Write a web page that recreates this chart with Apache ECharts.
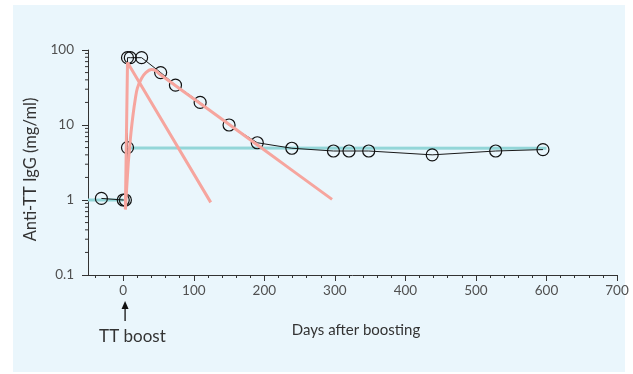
<!DOCTYPE html>
<html>
<head>
<meta charset="utf-8">
<script src="https://cdn.jsdelivr.net/npm/echarts@6/dist/echarts.min.js"></script>
<style>
  html, body { margin: 0; padding: 0; background: #ffffff; }
  #chart { width: 633px; height: 374px; }
</style>
</head>
<body>
<div id="chart"></div>
<script>
// Measured antibody levels (day, mg/ml)
const measured = [
  [-31, 1.05], [0, 1.0], [3, 1.0], [6, 5.0], [6, 79], [10, 79], [26, 79],
  [53, 50], [74, 34], [109, 20], [150, 10], [190, 5.8], [239, 4.9],
  [298, 4.5], [320, 4.5], [348, 4.5], [438, 4.0], [528, 4.5], [595, 4.7]
]
// Long-lived plasma cell plateau (teal)
const plateauBefore = [[-50, 1.0], [0, 1.0]]
const plateauAfter = [[6, 4.95], [600, 4.9]]
// Short-lived response (pink, straight)
const fastDecay = [[3, 0.75], [6, 68], [124, 0.93]]
// Slower response (pink, curve)
const slowResponse = [
  [3, 0.75], [7, 3], [9, 5], [11, 8], [14, 14], [17, 22], [20, 31],
  [26, 42], [32, 50], [40, 55], [46, 53], [50, 49], [120, 16.3],
  [200, 4.63], [296, 1.02]
]
// Axis ticks
const xMajorTicks = [0, 100, 200, 300, 400, 500, 600, 700]
const xMinorTicks = [-40, -20, 20, 40, 60, 80, 120, 140, 160, 180, 220, 240, 260, 280,
  320, 340, 360, 380, 420, 440, 460, 480, 520, 540, 560, 580, 620, 640, 660, 680]
const yMinorTicks = [0.2, 0.3, 0.4, 0.5, 0.6, 0.7, 0.8, 0.9, 2, 3, 4, 5, 6, 7, 8, 9,
  20, 30, 40, 50, 60, 70, 80, 90]
const xMin = -50
const xMax = 700
const boostDay = 4

const axisColor = '#333333'
const labelColor = '#505050'
const fontFamily = 'Lato, "Open Sans", sans-serif'
const pink = '#f6a59e'
const teal = '#93d6d8'

const chart = echarts.init(document.getElementById('chart'), null, { renderer: 'canvas' })

const option = {
  animation: false,
  backgroundColor: '#ffffff',
  textStyle: { fontFamily: fontFamily },
  grid: { left: 88, top: 50, width: 529, height: 225, containLabel: false },
  xAxis: [
    {
      type: 'value',
      position: 'bottom',
      min: xMin,
      max: xMax,
      name: 'Days after boosting',
      nameLocation: 'middle',
      nameGap: 48,
      nameTextStyle: { color: '#333', fontSize: 15, fontFamily: fontFamily, padding: [0, 0, 0, 7] },
      axisLine: { onZero: false, lineStyle: { color: axisColor, width: 1 } },
      axisTick: { customValues: xMajorTicks, length: 6, lineStyle: { color: axisColor } },
      axisLabel: { customValues: xMajorTicks, color: labelColor, fontSize: 13.5, margin: 9 },
      splitLine: { show: false }
    },
    {
      type: 'value',
      position: 'bottom',
      min: xMin,
      max: xMax,
      axisLine: { show: false, onZero: false },
      axisTick: { customValues: xMinorTicks, length: 3, lineStyle: { color: axisColor } },
      axisLabel: { show: false },
      splitLine: { show: false }
    }
  ],
  yAxis: [
    {
      type: 'log',
      logBase: 10,
      position: 'left',
      min: 0.1,
      max: 100,
      name: 'Anti-TT IgG (mg/ml)',
      nameLocation: 'middle',
      nameGap: 37,
      nameTextStyle: { color: '#333', fontSize: 16.5, fontFamily: fontFamily, padding: [0, 14, 0, 0] },
      axisLine: { onZero: false, lineStyle: { color: axisColor, width: 1 } },
      axisTick: { length: 6, lineStyle: { color: axisColor } },
      axisLabel: { color: labelColor, fontSize: 13.5, margin: 14 },
      splitLine: { show: false }
    }
  ],
  graphic: [
    {
      type: 'rect',
      z: -10,
      silent: true,
      shape: { x: 13, y: 5, width: 612, height: 367 },
      style: { fill: '#eaf6fc' }
    }
  ],
  series: [
    {
      // minor log ticks on the y axis (2..9 per decade)
      type: 'custom',
      data: yMinorTicks.map(v => [xMin, v]),
      clip: false,
      silent: true,
      renderItem: function (params, api) {
        const p = api.coord([api.value(0), api.value(1)])
        return {
          type: 'line',
          shape: { x1: p[0] - 3, y1: p[1], x2: p[0], y2: p[1] },
          style: { stroke: axisColor, lineWidth: 1 }
        }
      },
      z: 0
    },
    {
      type: 'line',
      data: plateauBefore,
      symbol: 'none',
      lineStyle: { color: teal, width: 3 },
      z: 1
    },
    {
      type: 'line',
      data: plateauAfter,
      symbol: 'none',
      lineStyle: { color: teal, width: 3 },
      z: 1
    },
    {
      type: 'line',
      data: measured,
      symbol: 'circle',
      symbolSize: 12,
      itemStyle: { color: 'rgba(0,0,0,0)', borderColor: '#111', borderWidth: 1.2 },
      lineStyle: { color: '#1a1a1a', width: 1 },
      z: 2
    },
    {
      type: 'line',
      data: fastDecay,
      symbol: 'none',
      lineStyle: { color: pink, width: 3 },
      z: 3
    },
    {
      type: 'line',
      data: slowResponse,
      symbol: 'none',
      smooth: 0.35,
      lineStyle: { color: pink, width: 3 },
      z: 3
    }
  ]
}

chart.setOption(option)

// "TT boost" arrow below the axis, placed at the boost day
const arrowX = chart.convertToPixel({ xAxisIndex: 0 }, boostDay) - 1
chart.setOption({
  graphic: [
    option.graphic[0],
    {
      type: 'group',
      silent: true,
      children: [
        {
          type: 'line',
          shape: { x1: arrowX, y1: 307, x2: arrowX, y2: 321 },
          style: { stroke: '#111', lineWidth: 1.3 }
        },
        {
          type: 'polygon',
          shape: { points: [[arrowX, 301], [arrowX - 3.5, 309], [arrowX + 3.5, 309]] },
          style: { fill: '#111' }
        },
        {
          type: 'text',
          x: arrowX - 26,
          y: 328,
          style: { text: 'TT boost', fill: '#333', font: '17px ' + fontFamily }
        }
      ]
    }
  ]
})
</script>
</body>
</html>
